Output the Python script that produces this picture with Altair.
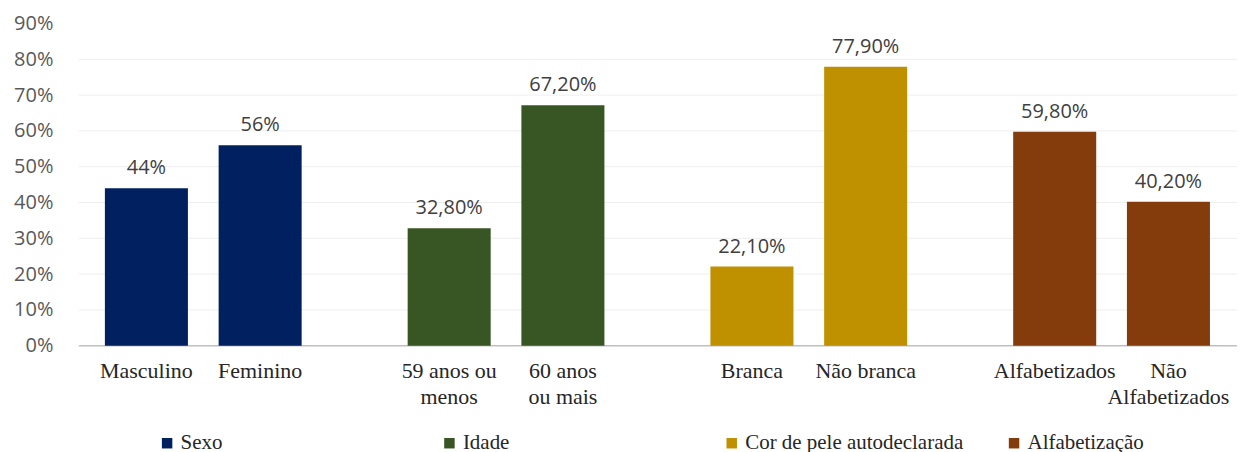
import altair as alt
import pandas as pd

groups = ["Sexo", "Sexo", "Idade", "Idade",
          "Cor de pele autodeclarada", "Cor de pele autodeclarada",
          "Alfabetização", "Alfabetização"]
slots = ["1", "2", "1", "2", "1", "2", "1", "2"]
items = ["Masculino", "Feminino", "59 anos ou\nmenos", "60 anos\nou mais",
         "Branca", "Não branca", "Alfabetizados", "Não\nAlfabetizados"]
values = [0.44, 0.56, 0.328, 0.672, 0.221, 0.779, 0.598, 0.402]
value_labels = ["44%", "56%", "32,80%", "67,20%", "22,10%", "77,90%", "59,80%", "40,20%"]

group_order = ["Sexo", "Idade", "Cor de pele autodeclarada", "Alfabetização"]
group_colors = ["#002060", "#375623", "#BF9000", "#843C0C"]
y_ticks = [0, 0.1, 0.2, 0.3, 0.4, 0.5, 0.6, 0.7, 0.8, 0.9]
grid_lines = [0, 0.1, 0.2, 0.3, 0.4, 0.5, 0.6, 0.7, 0.8]

W, H = 1161, 323

df = pd.DataFrame({"grupo": groups, "slot": slots, "item": items,
                   "valor": values, "rotulo": value_labels})
grid_df = pd.DataFrame({"tick": grid_lines})

x_enc = alt.X("grupo:N", sort=group_order,
              scale=alt.Scale(paddingInner=0, paddingOuter=0, range=[-27, 1187]),
              axis=None)
xo_enc = alt.XOffset("slot:N", scale=alt.Scale(paddingInner=0.27, paddingOuter=0.466))
y_scale = alt.Scale(domain=[0, 0.9], nice=False)
y_axis = alt.Axis(values=y_ticks, format=".0%", title=None, domain=False,
                  ticks=False, grid=False, labelPadding=26, labelFont="Open Sans",
                  labelFontSize=20, labelColor="#595959", labelOverlap=False)
y_enc = alt.Y("valor:Q", scale=y_scale, axis=y_axis)

base = alt.Chart(df)

grid = alt.Chart(grid_df).mark_rule().encode(
    y=alt.Y("tick:Q", scale=y_scale, axis=y_axis),
    x=alt.value(0), x2=alt.value(W),
    color=alt.condition(alt.datum.tick == 0, alt.value("#c0c0c0"), alt.value("#eeeeee")),
    strokeWidth=alt.condition(alt.datum.tick == 0, alt.value(1.5), alt.value(1)),
)

bars = base.mark_bar().encode(
    x=x_enc, xOffset=xo_enc, y=y_enc,
    color=alt.Color("grupo:N", sort=group_order,
                    scale=alt.Scale(domain=group_order, range=group_colors),
                    legend=alt.Legend(title=None, orient="none", legendX=78, legendY=410,
                                      direction="horizontal", columns=4, gridAlign="all",
                                      columnPadding=40, symbolType="square",
                                      symbolSize=110, symbolStrokeWidth=0,
                                      labelFont="Liberation Serif", labelFontSize=21,
                                      labelLimit=400,
                                      labelColor="#262626", labelOffset=3))
)

value_text = base.mark_text(font="Open Sans", fontSize=20, color="#404040",
                            baseline="alphabetic", dy=-14).encode(
    x=x_enc, xOffset=xo_enc, y=y_enc, text="rotulo:N")

cat_text = base.mark_text(font="Liberation Serif", fontSize=22, color="#262626",
                          baseline="top", dy=15, lineBreak="\n", lineHeight=26).encode(
    x=x_enc, xOffset=xo_enc,
    y=alt.YDatum(0, type="quantitative", scale=y_scale, axis=y_axis),
    text="item:N")

chart = alt.layer(grid, bars, value_text, cat_text).properties(
    width=W, height=H,
    padding={"top": 5, "left": 5, "right": 3, "bottom": 0}
).configure_view(stroke=None)

chart.save("out.html", embed_options={"renderer": "svg", "actions": False})
